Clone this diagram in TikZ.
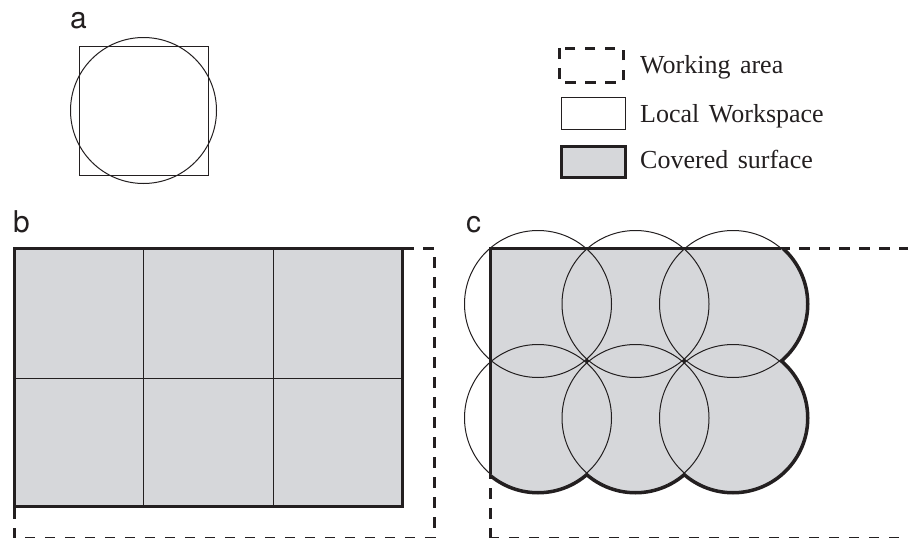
\documentclass[tikz,border=0pt]{standalone}
\usepackage{fontspec}
\setmainfont{Liberation Serif}
\newfontfamily\labelfont{TeX Gyre Heros}
\definecolor{ink}{RGB}{35,31,32}
\definecolor{covered}{RGB}{214,215,218}
\begin{document}
\begin{tikzpicture}[x=1pt,y=-1pt,line join=miter,
  thinline/.style={draw=ink,line width=1pt},
  thickline/.style={draw=ink,line width=3pt},
  workline/.style={draw=ink,line width=3pt,dash pattern=on 10.5pt off 9.5pt},
  panel/.style={font=\labelfont\fontsize{30}{30}\selectfont,text=ink,anchor=base west,inner sep=0pt},
  legendtext/.style={font=\fontsize{26}{26}\selectfont,text=ink,anchor=base west,inner sep=0pt}]
\useasboundingbox (0,0) rectangle (908,538);

% ---------- panel a: one local workspace ----------
\node[panel] (la) at (70,28) {a};
\draw[thinline] (79,46) rectangle (208,175);
\draw[thinline] (143.5,110.5) circle[radius=73pt];

% ---------- legend ----------
\draw[workline] (559,48) rectangle (623,82);
\draw[thinline] (561,97) rectangle (625,129);
\draw[thickline,fill=covered] (561,146) rectangle (625,177);
\node[legendtext] (t1) at (640,73) {Working\hspace{3pt} area};
\node[legendtext] (t2) at (640,122) {Local\hspace{3pt} Workspace};
\node[legendtext] (t3) at (640,168) {Covered\hspace{3pt} surface};

% ---------- panel b: square workspaces ----------
\node[panel] (lb) at (13,232) {b};
\draw[workline] (14,538.6) -- (14,248) -- (434,248) -- (434,538.6) -- cycle;
\fill[covered] (14,248) rectangle (402,506);
\draw[thinline] (143,248) -- (143,506) (273,248) -- (273,506) (14,378) -- (402,378);
\draw[thickline] (14,248) rectangle (402,506);

% ---------- panel c: circular workspaces ----------
\node[panel] (lc) at (466,232) {c};
\draw[workline] (490,538.6) -- (490,248) -- (914,248) -- (914,538.6) -- cycle;
\begin{scope}
  \clip (490,248) rectangle (908,538);
  \foreach \cx in {538,635.5,733} \foreach \cy in {304,418}
    \draw[draw=ink,line width=6pt] (\cx,\cy) circle[radius=73.5pt];
  \foreach \cx in {538,635.5,733} \foreach \cy in {304,418}
    \fill[covered] (\cx,\cy) circle[radius=73.5pt];
\end{scope}
\foreach \cx in {538,635.5,733} \foreach \cy in {304,418}
  \draw[thinline] (\cx,\cy) circle[radius=73.5pt];
\draw[thickline] (490,474) -- (490,248) -- (781,248);
\end{tikzpicture}
\end{document}
